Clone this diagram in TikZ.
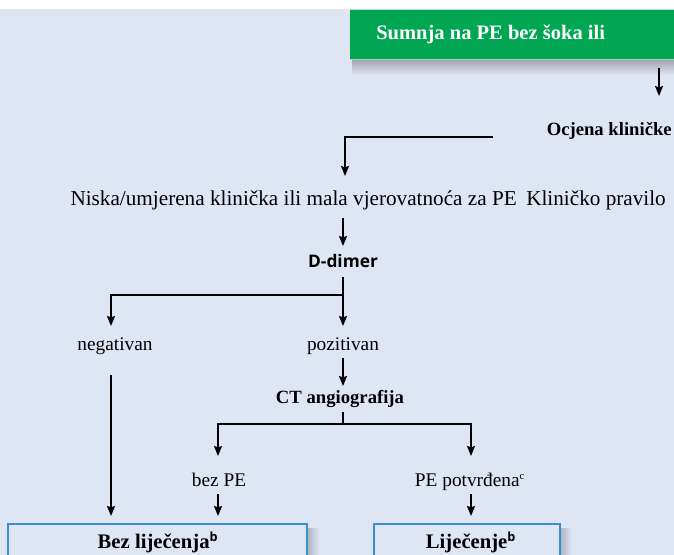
\documentclass[tikz,border=0pt]{standalone}
\usepackage{fontspec}
\setmainfont{Liberation Serif}
\newfontfamily\dsans{Open Sans}
\usetikzlibrary{arrows.meta}
\definecolor{bgblue}{HTML}{DFE6F3}
\definecolor{pegreen}{HTML}{00A651}
\definecolor{boxblue}{HTML}{3B8ED0}
\begin{document}
\begin{tikzpicture}[x=0.75pt,y=-0.75pt,
  bigtxt/.style={font=\fontsize{15.9}{18}\selectfont, inner sep=0pt},
  txt/.style={font=\fontsize{14.5}{16}\selectfont, inner sep=0pt},
  btxt/.style={font=\fontsize{14}{16}\selectfont\bfseries, inner sep=0pt},
  boxtxt/.style={font=\fontsize{15.5}{17}\selectfont\bfseries, inner sep=0pt},
  supb/.style={},
  link/.style={line width=1pt, draw=black},
  arr/.style={link, -{Stealth[length=7.5pt,width=6pt,inset=1pt]}},
  resultbox/.style={draw=boxblue, line width=1pt, fill=bgblue}]
  \useasboundingbox (0,0) rectangle (674,555);
  \clip (0,0) rectangle (674,555);
  % page and panel background
  \fill[white] (0,0) rectangle (674,555);
  \fill[bgblue] (0,9) rectangle (674,555);

  % soft shadows under the start box and beside the result boxes
  \shade[top color=black!28!bgblue, bottom color=bgblue] (352,60) rectangle (690,75);
  \shade[left color=black!22!bgblue, right color=bgblue] (307,528) rectangle (319,560);
  \shade[left color=black!22!bgblue, right color=bgblue] (560,528) rectangle (572,560);

  % start box
  \fill[pegreen] (350,9) rectangle (690,60);
  \draw[white!70!pegreen, line width=0.8pt] (350,9.5) -- (690,9.5);
  \draw[white!60!pegreen, line width=0.6pt] (350,59.6) -- (690,59.6);
  \node[font=\fontsize{15.4}{17}\selectfont\bfseries, text=white, inner sep=0pt, anchor=base west]
    (start) at (376,40) {Sumnja na PE bez šoka ili};

  % text nodes
  \node[btxt, anchor=base east] (ocjena) at (672,136) {Ocjena kliničke};
  \node[bigtxt, anchor=base east] (niska) at (517,206) {Niska/umjerena klinička ili mala vjerovatnoća za PE};
  \node[bigtxt, anchor=base west] (pravilo) at (526,206) {Kliničko pravilo};
  \node[font=\fontsize{13}{15}\selectfont\dsans\bfseries, inner sep=0pt, anchor=base] (dimer) at (343,268) {D-dimer};
  \node[txt, anchor=base] (neg) at (115,351) {negativan};
  \node[txt, anchor=base] (poz) at (343,351) {pozitivan};
  \node[btxt, anchor=base] (ct) at (340,404) {CT angiografija};
  \node[txt, anchor=base] (bezpe) at (219,486) {bez PE};
  \node[txt, anchor=base] (potv) at (470,486) {PE potvrđena\textsuperscript{\fontsize{8}{8}\selectfont c}};

  % result boxes
  \draw[resultbox] (8,524) rectangle (307,580);
  \draw[resultbox] (374,524) rectangle (560,580);
  \node[boxtxt, anchor=base] (bez) at (158,548) {Bez liječenja\textsuperscript{\fontsize{9.5}{9.5}\selectfont\dsans\bfseries b}};
  \node[boxtxt, anchor=base] (lij) at (471,548) {Liječenje\textsuperscript{\fontsize{9.5}{9.5}\selectfont\dsans\bfseries b}};

  % connector end points
  \coordinate (s1) at (659,68);   \coordinate (s2) at (659,96);
  \coordinate (o1) at (493,137);  \coordinate (o2) at (345,137);  \coordinate (o3) at (345,176);
  \coordinate (n1) at (343,218);  \coordinate (n2) at (343,246);
  \coordinate (d1) at (343,277);  \coordinate (d2) at (343,295);
  \coordinate (d3) at (111,295);  \coordinate (d4) at (111,326);  \coordinate (d5) at (343,326);
  \coordinate (p1) at (343,358);  \coordinate (p2) at (343,386);
  \coordinate (c1) at (343,412);  \coordinate (c2) at (343,424);
  \coordinate (c3) at (218,424);  \coordinate (c4) at (218,456);
  \coordinate (c5) at (471,424);  \coordinate (c6) at (471,456);
  \coordinate (b1) at (218,494);  \coordinate (b2) at (218,516);
  \coordinate (q1) at (471,494);  \coordinate (q2) at (471,516);
  \coordinate (g1) at (111,375);  \coordinate (g2) at (111,516);

  % connectors
  \draw[arr] (s1) -- (s2);
  \draw[arr] (o1) -- (o2) -- (o3);
  \draw[arr] (n1) -- (n2);
  \draw[link] (d1) -- (d2);
  \draw[arr] (d2) -- (d3) -- (d4);
  \draw[arr] (d2) -- (d5);
  \draw[arr] (p1) -- (p2);
  \draw[link] (c1) -- (c2);
  \draw[arr] (c2) -- (c3) -- (c4);
  \draw[arr] (c2) -- (c5) -- (c6);
  \draw[arr] (b1) -- (b2);
  \draw[arr] (q1) -- (q2);
  \draw[arr] (g1) -- (g2);
\end{tikzpicture}
\end{document}
